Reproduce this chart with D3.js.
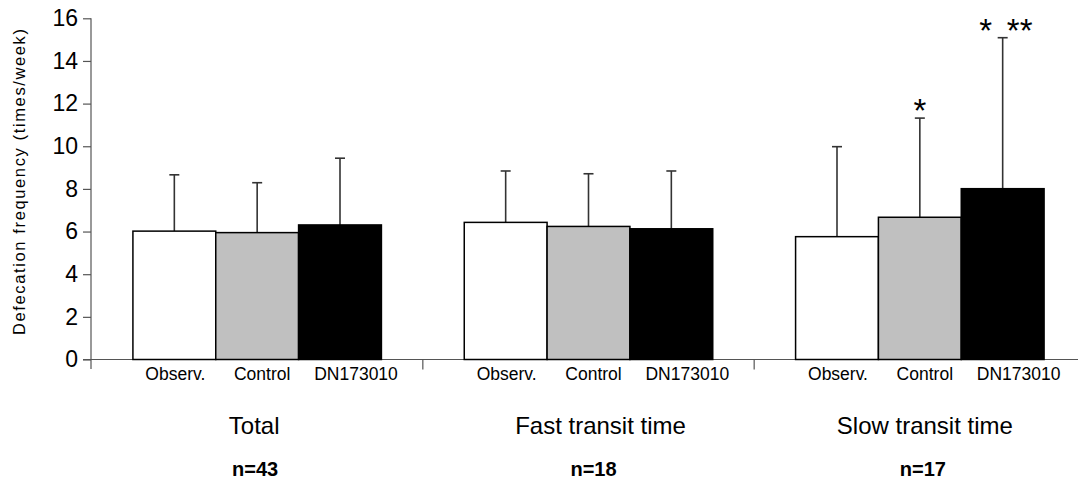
<!DOCTYPE html>
<html>
<head>
<meta charset="utf-8">
<script src="https://cdn.jsdelivr.net/npm/d3@7"></script>
<style>
  html, body { margin: 0; padding: 0; background: #fff; }
  svg { display: block; font-family: "Liberation Sans", Arial, sans-serif; }
</style>
</head>
<body>
<svg id="chart" width="1078" height="482"></svg>
<script>
// Defecation frequency by study arm, for each transit-time subgroup
const groups = ["Total", "Fast transit time", "Slow transit time"];
const groupN = ["n=43", "n=18", "n=17"];
const arms = ["Observ.", "Control", "DN173010"];
const meanTotal = [6.02, 5.95, 6.31];
const sdTotal = [2.64, 2.34, 3.13];
const meanFast = [6.43, 6.24, 6.13];
const sdFast = [2.41, 2.47, 2.71];
const meanSlow = [5.76, 6.67, 8.01];
const sdSlow = [4.22, 4.65, 7.08];
// significance marks above the bars (group index, arm index, marks)
const sigMarks = [
  [2, 1, ["*"]],
  [2, 2, ["*", "**"]]
];
const yTicks = [0, 2, 4, 6, 8, 10, 12, 14, 16];

const means = [meanTotal, meanFast, meanSlow];
const sds = [sdTotal, sdFast, sdSlow];
const rows = [];
groups.forEach((g, gi) => arms.forEach((a, ai) => {
  rows.push({ group: g, gi, arm: a, ai, mean: means[gi][ai], sd: sds[gi][ai] });
}));

const fills = ["#ffffff", "#c0c0c0", "#000000"];
const svg = d3.select("#chart");

const x0 = d3.scaleBand().domain(groups).range([91.5, 1085.5]).paddingInner(0).paddingOuter(0);
const x1 = d3.scaleBand().domain(arms).range([0, x0.bandwidth()]).paddingOuter(0.5).paddingInner(0);
const y = d3.scaleLinear().domain([0, 16]).range([359.5, 18.3]);

// y axis
const yAxis = svg.append("g")
  .attr("transform", "translate(91,0)")
  .call(d3.axisLeft(y).tickValues(yTicks).tickSize(8).tickPadding(5).tickFormat(d3.format("d")));
yAxis.select(".domain").attr("stroke", "#555").attr("stroke-width", 1.2).attr("d", "M0,18.3V369");
yAxis.selectAll(".tick line").attr("stroke", "#555").attr("stroke-width", 1.2);
yAxis.selectAll(".tick text").attr("font-size", 23).attr("fill", "#000")
  .attr("font-family", "'Liberation Sans', Arial, sans-serif");

// x baseline and group separators
svg.append("line").attr("x1", 83).attr("x2", 1078).attr("y1", y(0)).attr("y2", y(0))
  .attr("stroke", "#555").attr("stroke-width", 1.2);
svg.append("g").selectAll("line").data(groups.slice(1)).join("line")
  .attr("x1", d => x0(d)).attr("x2", d => x0(d))
  .attr("y1", y(0)).attr("y2", y(0) + 10)
  .attr("stroke", "#555").attr("stroke-width", 1.2);

// y title
svg.append("text")
  .attr("transform", `translate(25,${(18 + 346) / 2}) rotate(-90)`)
  .attr("text-anchor", "middle")
  .attr("font-size", 16.5)
  .attr("textLength", 306)
  .attr("lengthAdjust", "spacing")
  .text("Defecation frequency (times/week)");

const cx = d => x0(d.group) + x1(d.arm) + x1.bandwidth() / 2;

// error bars (upper only)
const eb = svg.append("g").attr("stroke", "#333").attr("stroke-width", 1.6);
eb.selectAll("line.v").data(rows).join("line").attr("class", "v")
  .attr("x1", cx).attr("x2", cx)
  .attr("y1", d => y(d.mean)).attr("y2", d => y(d.mean + d.sd));
eb.selectAll("line.cap").data(rows).join("line").attr("class", "cap")
  .attr("x1", d => cx(d) - 5).attr("x2", d => cx(d) + 5)
  .attr("y1", d => y(d.mean + d.sd)).attr("y2", d => y(d.mean + d.sd));

// bars
svg.append("g").selectAll("rect").data(rows).join("rect")
  .attr("x", d => x0(d.group) + x1(d.arm))
  .attr("y", d => y(d.mean))
  .attr("width", x1.bandwidth())
  .attr("height", d => y(0) - y(d.mean))
  .attr("fill", d => fills[d.ai])
  .attr("stroke", "#000")
  .attr("stroke-width", 1.5);

// arm labels under each bar
const armShift = [1, 5, 16];
svg.append("g").selectAll("text").data(rows).join("text")
  .attr("x", d => cx(d) + armShift[d.ai])
  .attr("y", 380)
  .attr("text-anchor", "middle")
  .attr("font-size", 17.5)
  .text(d => d.arm);

// group names and sample sizes
const groupShift = [-3, 12, 5];
const nShift = [-2, 5, 3];
svg.append("g").selectAll("text").data(groups).join("text")
  .attr("x", (d, i) => x0(d) + x0.bandwidth() / 2 + groupShift[i])
  .attr("y", 434)
  .attr("text-anchor", "middle")
  .attr("font-size", 24)
  .text(d => d);
svg.append("g").selectAll("text").data(groupN).join("text")
  .attr("x", (d, i) => x0(groups[i]) + x0.bandwidth() / 2 + nShift[i])
  .attr("y", 476)
  .attr("text-anchor", "middle")
  .attr("font-size", 20)
  .attr("font-weight", "bold")
  .text(d => d);

// significance asterisks above the error bar caps
const markSpread = 17;
sigMarks.forEach(([gi, ai, marks]) => {
  const r = rows.find(d => d.gi === gi && d.ai === ai);
  const top = y(r.mean + r.sd);
  svg.append("g").selectAll("text").data(marks).join("text")
    .attr("x", (d, k) => cx(r) + (marks.length === 1 ? 0 : (k === 0 ? -markSpread : markSpread)))
    .attr("y", top + 4)
    .attr("text-anchor", "middle")
    .attr("font-size", 33)
    .text(d => d);
});
</script>
</body>
</html>
